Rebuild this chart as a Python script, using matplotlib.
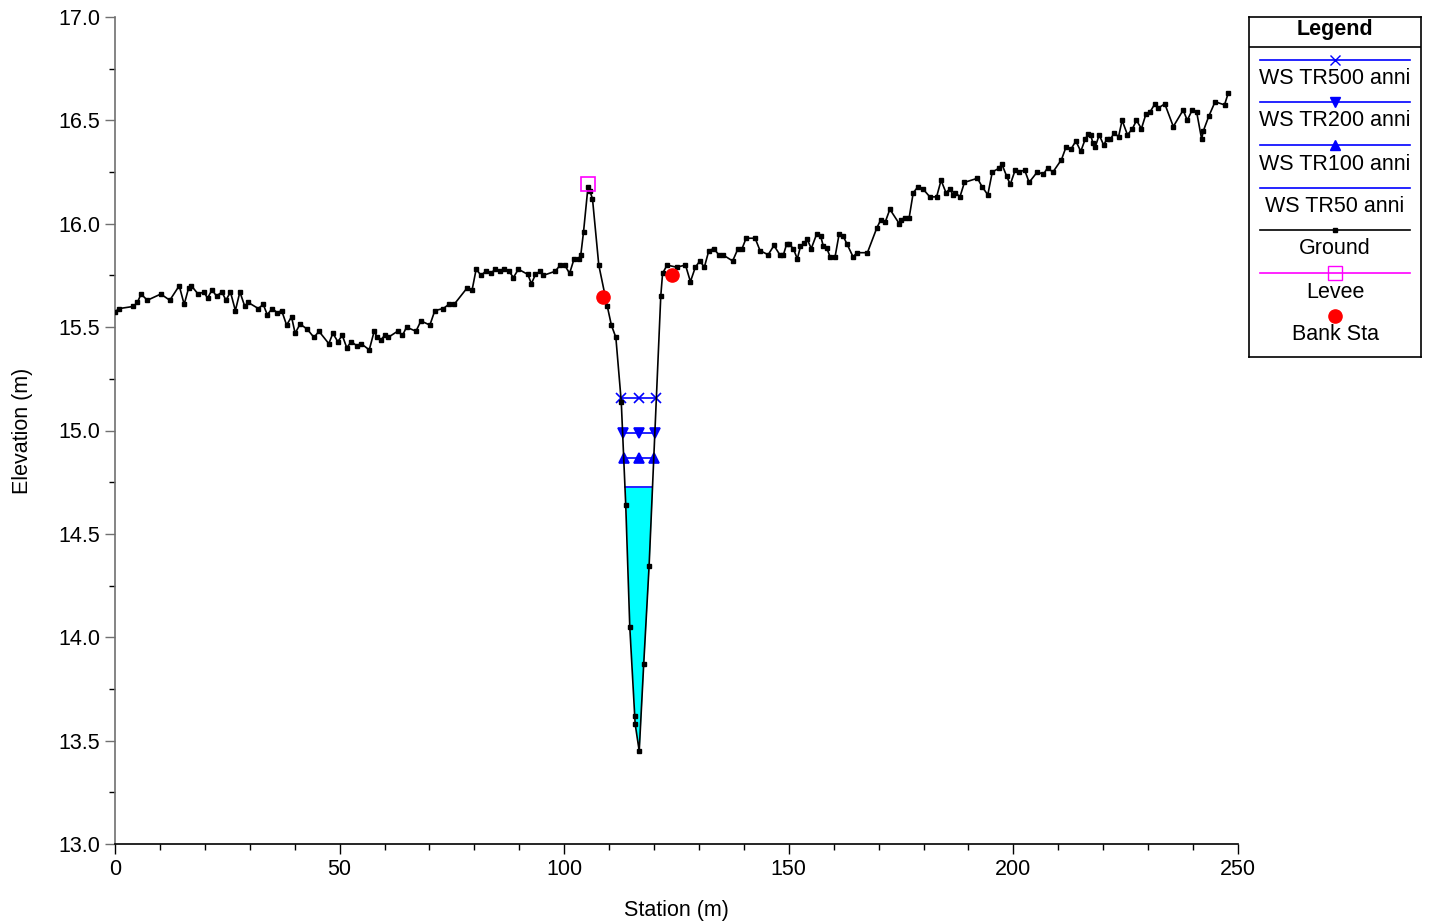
import numpy as np
import matplotlib
matplotlib.use("Agg")
import matplotlib.pyplot as plt

plt.rcParams['font.family'] = ['Liberation Sans', 'DejaVu Sans']

# ground profile (station, elevation)
ground_x = [0.0, 1.0, 4.1, 5.0, 5.8, 7.2, 10.2, 12.2, 14.3, 15.4, 16.4, 17.0, 18.5, 19.8,
            20.6, 21.6, 22.6, 23.8, 24.7, 25.7, 26.8, 27.8, 28.9, 29.6, 31.9, 33.0, 33.9,
            35.0, 36.1, 37.1, 38.2, 39.3, 40.1, 41.2, 42.8, 44.3, 45.4, 47.6, 48.5, 49.6,
            50.6, 51.6, 52.6, 53.8, 54.8, 56.6, 57.7, 58.4, 59.3, 60.0, 60.8, 62.9, 64.0,
            64.9, 67.0, 68.1, 70.1, 71.2, 73.1, 74.3, 75.5, 78.4, 79.5, 80.4, 81.5, 82.5,
            83.6, 84.7, 85.6, 86.6, 87.7, 88.7, 89.8, 91.9, 92.7, 93.6, 94.6, 95.3, 98.0,
            99.1, 100.1, 101.2, 102.2, 103.2, 103.7, 104.3, 105.3, 105.7, 106.3, 107.7,
            109.6, 110.5, 111.5, 112.7, 113.7, 114.6, 115.7, 115.8, 116.7, 117.7, 118.9,
            121.5, 121.9, 122.9, 125.0, 127.0, 128.1, 129.2, 130.2, 131.2, 132.2, 133.3,
            134.4, 135.3, 137.5, 138.7, 139.6, 140.5, 142.5, 143.6, 145.4, 146.7, 148.0,
            148.8, 149.5, 150.1, 151.0, 151.9, 152.6, 153.4, 154.1, 155.0, 156.2, 157.1,
            157.7, 158.4, 159.2, 160.3, 161.2, 162.1, 163.0, 164.3, 165.2, 167.5, 169.6,
            170.5, 171.5, 172.5, 174.6, 175.0, 175.9, 176.8, 177.7, 178.8, 179.8, 181.4,
            182.9, 183.9, 185.0, 185.9, 186.5, 187.1, 188.1, 189.1, 192.0, 193.0, 194.3,
            195.3, 196.9, 197.4, 198.5, 199.3, 200.4, 201.3, 202.5, 203.5, 205.3, 206.7,
            207.6, 208.8, 210.7, 211.7, 212.8, 213.9, 215.0, 216.0, 216.7, 217.2, 217.7,
            218.2, 219.1, 220.1, 220.8, 221.6, 222.5, 223.4, 224.2, 225.4, 226.5, 227.4,
            228.5, 229.5, 230.4, 231.5, 232.3, 233.7, 235.6, 237.8, 238.7, 239.8, 240.8,
            241.9, 242.3, 243.5, 244.9, 247.0, 247.8]
ground_y = [15.575, 15.59, 15.60, 15.62, 15.66, 15.63, 15.66, 15.63, 15.70, 15.61, 15.69, 15.70,
            15.66, 15.67, 15.64, 15.68, 15.65, 15.67, 15.63, 15.67, 15.58, 15.67, 15.60, 15.62,
            15.59, 15.61, 15.56, 15.59, 15.57, 15.58, 15.51, 15.55, 15.47, 15.515, 15.49, 15.45,
            15.48, 15.42, 15.47, 15.43, 15.46, 15.40, 15.43, 15.41, 15.42, 15.39, 15.48, 15.45,
            15.44, 15.46, 15.45, 15.48, 15.46, 15.50, 15.48, 15.53, 15.51, 15.58, 15.59, 15.61,
            15.61, 15.69, 15.68, 15.78, 15.75, 15.77, 15.76, 15.78, 15.77, 15.78, 15.77, 15.74,
            15.78, 15.755, 15.71, 15.755, 15.77, 15.75, 15.77, 15.80, 15.80, 15.76, 15.83, 15.83,
            15.85, 15.96, 16.18, 16.16, 16.12, 15.80, 15.60, 15.51, 15.45, 15.14, 14.64, 14.05,
            13.62, 13.58, 13.45, 13.87, 14.345, 15.65, 15.76, 15.80, 15.79, 15.80, 15.72, 15.79,
            15.82, 15.79, 15.87, 15.88, 15.85, 15.85, 15.82, 15.88, 15.88, 15.93, 15.93, 15.87,
            15.85, 15.895, 15.85, 15.85, 15.90, 15.90, 15.88, 15.83, 15.89, 15.905, 15.925, 15.88,
            15.95, 15.94, 15.89, 15.885, 15.84, 15.84, 15.95, 15.94, 15.90, 15.84, 15.86, 15.86,
            15.98, 16.02, 16.01, 16.07, 16.00, 16.02, 16.03, 16.03, 16.15, 16.18, 16.17, 16.13,
            16.13, 16.21, 16.15, 16.17, 16.14, 16.15, 16.13, 16.20, 16.22, 16.18, 16.14, 16.25,
            16.27, 16.29, 16.23, 16.19, 16.26, 16.25, 16.26, 16.20, 16.25, 16.24, 16.27, 16.25,
            16.31, 16.37, 16.36, 16.40, 16.35, 16.41, 16.435, 16.43, 16.39, 16.37, 16.43, 16.38,
            16.41, 16.41, 16.44, 16.42, 16.50, 16.43, 16.46, 16.50, 16.46, 16.53, 16.54, 16.58,
            16.56, 16.58, 16.47, 16.55, 16.50, 16.55, 16.54, 16.41, 16.45, 16.52, 16.59, 16.575,
            16.63]

# water surfaces
ws_names = ["WS TR500 anni", "WS TR200 anni", "WS TR100 anni", "WS TR50 anni"]
ws_levels = [15.155, 14.99, 14.865, 14.725]
ws_markers = ["x", "v", "^", None]

levee_x = [105.3]
levee_y = [16.19]
bank_x = [108.7, 124.1]
bank_y = [15.645, 15.75]

gx = np.array(ground_x)
gy = np.array(ground_y)
imin = int(np.argmin(gy))


def crossing(level, step):
    j = imin
    while gy[j + step] < level:
        j += step
    k = j + step
    return gx[j] + (level - gy[j]) * (gx[k] - gx[j]) / (gy[k] - gy[j])


fig = plt.figure(figsize=(14.29, 9.24), dpi=100)
ax = fig.add_axes([115 / 1429, 80 / 924, 1123 / 1429, 827 / 924])

BLUE = "#0000ff"

# lowest water surface filled in cyan
lvl = ws_levels[-1]
xl, xr = crossing(lvl, -1), crossing(lvl, 1)
inside = (gx > xl) & (gx < xr)
fx = np.concatenate([[xl], gx[inside], [xr]])
fy = np.concatenate([[lvl], gy[inside], [lvl]])
ax.fill_between(fx, fy, lvl, color="#00ffff", lw=0, zorder=1)
ax.plot([xl, xr], [lvl, lvl], color=BLUE, lw=1.2, zorder=2)

for lvl, m in zip(ws_levels[:-1], ws_markers[:-1]):
    xl, xr = crossing(lvl, -1), crossing(lvl, 1)
    xs = [xl, (xl + xr) / 2, xr]
    ax.plot(xs, [lvl] * 3, color=BLUE, lw=1.2, marker=m, ms=7, mew=1.2, zorder=3)

ax.plot(gx, gy, color="black", lw=1.2, marker="s", ms=2.3, zorder=4)
ax.plot(levee_x, levee_y, ls="none", marker="s", ms=9.5, mfc="none", mec="#ff00ff",
        mew=1.2, zorder=5)
ax.plot(bank_x, bank_y, ls="none", marker="o", ms=9.5, color="#ff0000", zorder=5)

ax.set_xlim(0, 250)
ax.set_ylim(13, 17)
ax.set_xticks(np.arange(0, 251, 50))
ax.set_xticks(np.arange(0, 251, 10), minor=True)
ax.set_yticks(np.arange(13, 17.01, 0.5))
ax.set_yticks(np.arange(13, 17.01, 0.25), minor=True)
ax.set_yticklabels([f"{v:.1f}" for v in np.arange(13, 17.01, 0.5)])
ax.tick_params(labelsize=15.5, length=7, width=1)
ax.tick_params(which="minor", length=4, width=1)
ax.tick_params(axis="y", colors="#707070", labelcolor="black")
for s in ["top", "right"]:
    ax.spines[s].set_visible(False)
ax.spines["left"].set_color("#707070")
ax.spines["left"].set_linewidth(1.2)
ax.spines["bottom"].set_linewidth(1.2)
ax.set_xlabel("Station (m)", fontsize=15.5, labelpad=15)
ax.set_ylabel("Elevation (m)", fontsize=15.5, labelpad=18)

# legend box drawn by hand in pixel coordinates
lg = fig.add_axes([1249 / 1429, (924 - 357) / 924, 172 / 1429, 340 / 924])
lg.set_xlim(1249, 1421)
lg.set_ylim(357, 17)
lg.set_xticks([])
lg.set_yticks([])
for s in lg.spines.values():
    s.set_linewidth(1.2)
cx = 1335
lg.text(cx, 30, "Legend", ha="center", va="center", fontsize=15.5, fontweight="bold")
lg.axhline(47, color="black", lw=1.2)
rows = [
    ("WS TR500 anni", 60, BLUE, dict(marker="x", ms=7, mec=BLUE)),
    ("WS TR200 anni", 102, BLUE, dict(marker="v", ms=7, color=BLUE)),
    ("WS TR100 anni", 145, BLUE, dict(marker="^", ms=7, color=BLUE)),
    ("WS TR50 anni", 188, BLUE, None),
    ("Ground", 230, "black", dict(marker="s", ms=2.3, color="black")),
    ("Levee", 273, "#ff00ff", dict(marker="s", ms=9.5, mfc="none", mec="#ff00ff")),
]
for name, y, col, mk in rows:
    lg.plot([1260, 1410], [y, y], lw=1.2, color=col)
    if mk:
        lg.plot([cx], [y], ls="none", **mk)
    lg.text(cx, y + 19, name, ha="center", va="center", fontsize=15.5)
lg.plot([cx], [316], ls="none", marker="o", ms=9.5, color="#ff0000")
lg.text(cx, 334, "Bank Sta", ha="center", va="center", fontsize=15.5)

fig.savefig("out.png", dpi=100)
